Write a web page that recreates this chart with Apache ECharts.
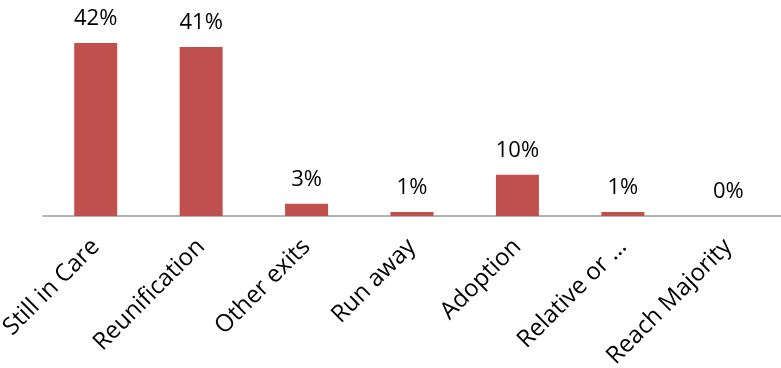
<!DOCTYPE html>
<html>
<head>
<meta charset="utf-8">
<script src="https://cdn.jsdelivr.net/npm/echarts@6/dist/echarts.min.js"></script>
<style>
  html, body { margin: 0; padding: 0; background: #fff; }
  #chart { width: 781px; height: 368px; }
</style>
</head>
<body>
<div id="chart"></div>
<script>
// Exit outcomes, share of children (%)
const categories = ['Still in Care', 'Reunification', 'Other exits', 'Run away', 'Adoption', 'Relative or …', 'Reach Majority'];
const shares = [42, 41, 3, 1, 10, 1, 0];

const FONT = '"Open Sans", sans-serif';

const chart = echarts.init(document.getElementById('chart'), null, { renderer: 'canvas' });
chart.setOption({
  animation: false,
  grid: { left: 43, right: 0, top: 10, bottom: 152, containLabel: false, outerBoundsMode: 'none' },
  xAxis: {
    type: 'category',
    data: categories,
    axisLine: { lineStyle: { color: '#9A9A9A', width: 1.5 } },
    axisTick: { show: false },
    axisLabel: {
      rotate: 45,
      margin: 27,
      interval: 0,
      color: '#000',
      fontSize: 24,
      fontFamily: FONT
    }
  },
  yAxis: {
    type: 'value',
    min: 0,
    max: 50,
    show: false,
    splitLine: { show: false }
  },
  series: [{
    type: 'bar',
    data: shares,
    barWidth: 43,
    itemStyle: { color: '#C0504D' },
    label: {
      show: true,
      position: 'top',
      distance: 13,
      formatter: p => p.value + '%',
      color: '#000',
      fontSize: 22,
      fontFamily: FONT
    }
  }]
});
</script>
</body>
</html>
